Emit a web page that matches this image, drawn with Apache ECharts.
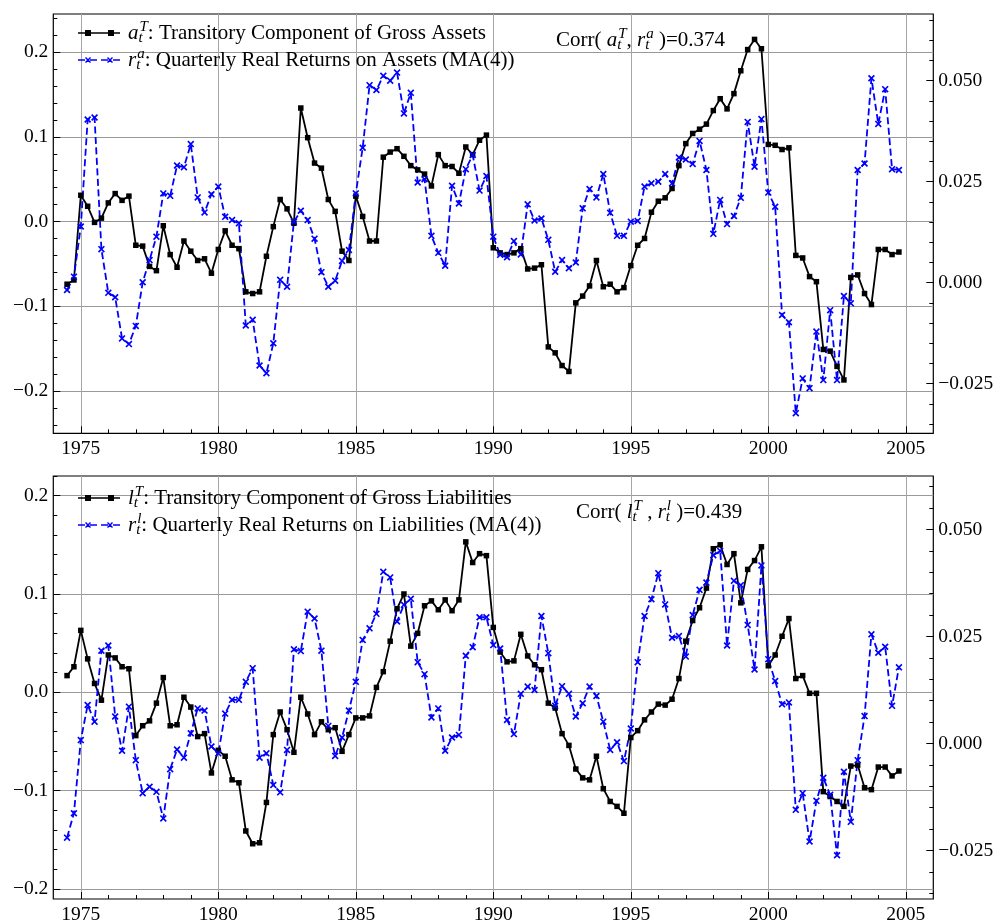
<!DOCTYPE html>
<html>
<head>
<meta charset="utf-8">
<script src="https://cdn.jsdelivr.net/npm/echarts@6/dist/echarts.min.js"></script>
<style>
  html, body { margin: 0; padding: 0; background: #fff; }
  #chart { width: 1003px; height: 924px; }
</style>
</head>
<body>
<div id="chart"></div>
<script>
// Quarterly series, first observation 1974.5, one value per quarter up to 2004.75
const START_YEAR = 1974.5;

// Transitory component of gross assets (left axis, top panel)
const assetsTransitory = [
  -0.074, -0.069, 0.031, 0.018, -0.001, 0.004, 0.022, 0.033, 0.025, 0.030,
  -0.028, -0.029, -0.053, -0.058, -0.005, -0.039, -0.054, -0.023, -0.035, -0.046,
  -0.044, -0.061, -0.033, -0.011, -0.028, -0.032, -0.083, -0.085, -0.083, -0.041,
  -0.006, 0.026, 0.015, -0.002, 0.134, 0.099, 0.069, 0.063, 0.026, 0.012,
  -0.035, -0.046, 0.030, 0.006, -0.023, -0.023, 0.076, 0.082, 0.086, 0.077,
  0.066, 0.061, 0.056, 0.042, 0.079, 0.066, 0.065, 0.057, 0.088, 0.079,
  0.096, 0.102, -0.031, -0.037, -0.039, -0.037, -0.032, -0.056, -0.055, -0.051,
  -0.148, -0.155, -0.170, -0.177, -0.096, -0.088, -0.076, -0.046, -0.077, -0.074,
  -0.083, -0.078, -0.052, -0.028, -0.020, 0.011, 0.024, 0.028, 0.039, 0.066,
  0.092, 0.104, 0.109, 0.115, 0.131, 0.145, 0.133, 0.151, 0.178, 0.203,
  0.215, 0.204, 0.091, 0.090, 0.085, 0.087, -0.040, -0.043, -0.065, -0.071,
  -0.151, -0.153, -0.171, -0.187, -0.066, -0.063, -0.085, -0.098, -0.033, -0.033,
  -0.039, -0.036
];

// Quarterly real returns on assets, MA(4) (right axis, top panel)
const assetsReturns = [
  -0.0018, 0.0015, 0.0139, 0.0404, 0.0409, 0.0083, -0.0025, -0.0036, -0.0138, -0.0152,
  -0.0107, 0.0001, 0.0056, 0.0114, 0.0221, 0.0215, 0.0290, 0.0286, 0.0343, 0.0211,
  0.0174, 0.0219, 0.0238, 0.0163, 0.0155, 0.0147, -0.0106, -0.0092, -0.0205, -0.0224,
  -0.0150, 0.0007, -0.0010, 0.0151, 0.0178, 0.0155, 0.0109, 0.0026, -0.0010, 0.0005,
  0.0054, 0.0081, 0.0221, 0.0334, 0.0489, 0.0477, 0.0512, 0.0500, 0.0520, 0.0419,
  0.0470, 0.0248, 0.0256, 0.0116, 0.0074, 0.0042, 0.0240, 0.0196, 0.0281, 0.0316,
  0.0228, 0.0264, 0.0114, 0.0069, 0.0063, 0.0103, 0.0070, 0.0194, 0.0154, 0.0159,
  0.0106, 0.0027, 0.0056, 0.0036, 0.0050, 0.0184, 0.0232, 0.0211, 0.0269, 0.0173,
  0.0116, 0.0116, 0.0151, 0.0153, 0.0238, 0.0246, 0.0250, 0.0269, 0.0246, 0.0310,
  0.0305, 0.0294, 0.0351, 0.0279, 0.0121, 0.0205, 0.0145, 0.0165, 0.0210, 0.0398,
  0.0287, 0.0405, 0.0223, 0.0188, -0.0080, -0.0098, -0.0323, -0.0237, -0.0261, -0.0121,
  -0.0241, -0.0068, -0.0241, -0.0033, -0.0051, 0.0279, 0.0295, 0.0506, 0.0393, 0.0479,
  0.0281, 0.0279
];

// Transitory component of gross liabilities (left axis, bottom panel)
const liabTransitory = [
  0.017, 0.026, 0.063, 0.034, 0.009, -0.008, 0.038, 0.035, 0.026, 0.024,
  -0.044, -0.034, -0.029, -0.011, 0.015, -0.034, -0.033, -0.005, -0.015, -0.045,
  -0.042, -0.082, -0.059, -0.065, -0.089, -0.092, -0.141, -0.154, -0.153, -0.112,
  -0.043, -0.020, -0.038, -0.061, -0.005, -0.022, -0.043, -0.030, -0.038, -0.036,
  -0.060, -0.043, -0.026, -0.026, -0.024, 0.005, 0.021, 0.052, 0.085, 0.100,
  0.047, 0.060, 0.088, 0.093, 0.084, 0.094, 0.083, 0.094, 0.153, 0.132,
  0.141, 0.139, 0.066, 0.041, 0.031, 0.032, 0.059, 0.037, 0.028, 0.023,
  -0.011, -0.016, -0.042, -0.054, -0.078, -0.087, -0.089, -0.065, -0.098, -0.111,
  -0.116, -0.123, -0.046, -0.039, -0.028, -0.020, -0.012, -0.013, -0.007, 0.014,
  0.052, 0.073, 0.086, 0.106, 0.146, 0.150, 0.130, 0.141, 0.091, 0.125,
  0.134, 0.148, 0.027, 0.038, 0.057, 0.075, 0.014, 0.017, -0.001, -0.001,
  -0.101, -0.106, -0.111, -0.116, -0.075, -0.074, -0.097, -0.099, -0.076, -0.076,
  -0.085, -0.080
];

// Quarterly real returns on liabilities, MA(4) (right axis, bottom panel)
const liabReturns = [
  -0.0220, -0.0163, 0.0008, 0.0090, 0.0051, 0.0217, 0.0229, 0.0063, -0.0017, 0.0086,
  -0.0039, -0.0116, -0.0101, -0.0113, -0.0175, -0.0060, -0.0014, -0.0033, 0.0024, 0.0082,
  0.0077, -0.0007, -0.0023, 0.0070, 0.0102, 0.0102, 0.0144, 0.0176, -0.0033, -0.0023,
  -0.0097, -0.0114, -0.0015, 0.0220, 0.0216, 0.0308, 0.0292, 0.0217, 0.0041, -0.0029,
  0.0014, 0.0077, 0.0144, 0.0242, 0.0269, 0.0303, 0.0401, 0.0388, 0.0285, 0.0324,
  0.0338, 0.0190, 0.0162, 0.0061, 0.0082, -0.0017, 0.0014, 0.0020, 0.0205, 0.0225,
  0.0295, 0.0295, 0.0230, 0.0222, 0.0055, 0.0022, 0.0116, 0.0133, 0.0125, 0.0298,
  0.0211, 0.0088, 0.0134, 0.0116, 0.0063, 0.0094, 0.0133, 0.0111, 0.0051, -0.0015,
  0.0003, -0.0041, 0.0035, 0.0190, 0.0298, 0.0337, 0.0398, 0.0325, 0.0247, 0.0251,
  0.0203, 0.0300, 0.0359, 0.0376, 0.0440, 0.0450, 0.0229, 0.0380, 0.0370, 0.0277,
  0.0173, 0.0416, 0.0197, 0.0146, 0.0092, 0.0096, -0.0155, -0.0116, -0.0229, -0.0134,
  -0.0080, -0.0120, -0.0261, -0.0066, -0.0183, -0.0039, 0.0064, 0.0255, 0.0212, 0.0226,
  0.0088, 0.0178
];

// Tick labels
const yearTicks = [1975, 1980, 1985, 1990, 1995, 2000, 2005];
const leftTicksTop = [-0.2, -0.1, 0.0, 0.1, 0.2];
const rightTicksTop = [-0.025, 0.0, 0.025, 0.05];
const leftTicksBottom = [-0.2, -0.1, 0.0, 0.1, 0.2];
const rightTicksBottom = [-0.025, 0.0, 0.025, 0.05];

// Axis extents
const X_MIN = 1974, X_MAX = 2006;
const TOP_LEFT = [-0.25, 0.245];
const TOP_RIGHT = [-0.03728, 0.06651];
const BOT_LEFT = [-0.2102, 0.2200];
const BOT_RIGHT = [-0.03633, 0.0625];

const FONT = '"Liberation Serif", "Times New Roman", serif';
const BLUE = '#0000ff';

function steps(from, to, step) {
  const out = [];
  for (let v = from; v <= to + step / 1000; v += step) out.push(Math.round(v * 10000) / 10000);
  return out;
}
function quarterly(values) {
  return values.map((v, i) => [START_YEAR + 0.25 * i, v]);
}
function fmt(decimals) {
  return v => (v < 0 ? '\u2212' : '') + Math.abs(v).toFixed(decimals);
}

// x-shaped marker, drawn as a filled outline
function xShape(cx, cy, h, d) {
  const x0 = cx - h, x1 = cx + h, y0 = cy - h, y1 = cy + h;
  return `M${x0},${y0 + d}L${x0 + d},${y0}L${x1},${y1 - d}L${x1 - d},${y1}Z` +
         `M${x1 - d},${y0}L${x1},${y0 + d}L${x0 + d},${y1}L${x0},${y1 - d}Z`;
}
const X_SYMBOL = 'path://' + xShape(3, 3, 3, 1);
const ICON_SOLID = 'path://M0,2.2H42V3.8H0Z M7,0H13V6H7Z M30,0H36V6H30Z';
const ICON_DASHED = 'path://M0,2.2H7V3.8H0Z M12,2.2H19V3.8H12Z M23,2.2H30V3.8H23Z M35,2.2H42V3.8H35Z ' +
  xShape(10, 3, 3, 1) + ' ' + xShape(32, 3, 3, 1);

const tickLine = { color: '#000', width: 1 };
const labelStyle = { fontFamily: FONT, fontSize: 19.5, color: '#000' };

function xAxes(gi) {
  return [
    {
      gridIndex: gi, type: 'value', position: 'bottom', min: X_MIN, max: X_MAX,
      axisLine: { show: false, onZero: false },
      axisTick: { inside: true, length: 7, lineStyle: tickLine, customValues: yearTicks },
      axisLabel: Object.assign({ margin: 6, customValues: yearTicks, formatter: v => String(v) }, labelStyle),
      splitLine: { show: true, lineStyle: { color: '#a6a6a6', width: 1 } }
    },
    {
      gridIndex: gi, type: 'value', position: 'bottom', min: X_MIN, max: X_MAX,
      axisLine: { show: false, onZero: false },
      axisTick: { inside: true, length: 4, lineStyle: tickLine, customValues: steps(1975, 2005, 1) },
      axisLabel: { show: false },
      splitLine: { show: false }
    }
  ];
}

function yAxes(gi, side, range, major, minor, decimals, grid) {
  return [
    {
      gridIndex: gi, type: 'value', position: side, min: range[0], max: range[1],
      axisLine: { show: false, onZero: false },
      axisTick: { inside: true, length: 7, lineStyle: tickLine, customValues: major },
      axisLabel: Object.assign({ margin: 5, customValues: major, formatter: fmt(decimals) }, labelStyle),
      splitLine: { show: grid, lineStyle: { color: '#999999', width: 1 } }
    },
    {
      gridIndex: gi, type: 'value', position: side, min: range[0], max: range[1],
      axisLine: { show: false, onZero: false },
      axisTick: { inside: true, length: 4, lineStyle: tickLine, customValues: minor },
      axisLabel: { show: false },
      splitLine: { show: false }
    }
  ];
}

const mainSize = 21, smallSize = 15;
const rich = {
  n: { fontFamily: FONT, fontSize: mainSize, lineHeight: 26, color: '#000' },
  m: { fontFamily: FONT, fontSize: mainSize, fontStyle: 'italic', lineHeight: 26, color: '#000' },
  sub: { fontFamily: FONT, fontSize: smallSize, fontStyle: 'italic', lineHeight: 12, verticalAlign: 'bottom', width: 1, color: '#000' },
  sup: { fontFamily: FONT, fontSize: smallSize, fontStyle: 'italic', lineHeight: 12, verticalAlign: 'top', color: '#000' }
};

const legendText = {
  assetsT: '{m|a}{sub|t}{sup|T}{n|: Transitory Component of Gross Assets}',
  assetsR: '{m|r}{sub|t}{sup|a}{n|: Quarterly Real Returns on Assets (MA(4))}',
  liabT: '{m|l}{sub|t}{sup|T}{n|: Transitory Component of Gross Liabilities}',
  liabR: '{m|r}{sub|t}{sup|l}{n|: Quarterly Real Returns on Liabilities (MA(4))}'
};
const corrTop = '{n|Corr( }{m|a}{sub|t}{sup|T}{n|, }{m|r}{sub|t}{sup|a}{n| )=0.374}';
const corrBottom = '{n|Corr( }{m|l}{sub|t}{sup|T}{n| , }{m|r}{sub|t}{sup|l}{n| )=0.439}';

function legend(names, top) {
  return {
    data: [{ name: names[0], icon: ICON_SOLID }, { name: names[1], icon: ICON_DASHED }],
    orient: 'vertical', left: 78, top: top, padding: 0, itemGap: 1,
    itemWidth: 42, itemHeight: 6, selectedMode: false,
    formatter: n => legendText[n],
    textStyle: { fontFamily: FONT, fontSize: mainSize, lineHeight: 26, color: '#000',
      padding: [0, 0, 0, 3], rich: rich }
  };
}

function solidSeries(name, values, xi, yi) {
  return {
    name: name, type: 'line', xAxisIndex: xi, yAxisIndex: yi, data: quarterly(values),
    symbol: 'rect', symbolSize: 5.5, showAllSymbol: true,
    lineStyle: { color: '#000', width: 1.8 }, itemStyle: { color: '#000' },
    emphasis: { disabled: true }
  };
}
function dashedSeries(name, values, xi, yi) {
  return {
    name: name, type: 'line', xAxisIndex: xi, yAxisIndex: yi, data: quarterly(values),
    symbol: X_SYMBOL, symbolSize: 7, showAllSymbol: true,
    lineStyle: { color: BLUE, width: 1.8, type: [7, 3.5] }, itemStyle: { color: BLUE },
    emphasis: { disabled: true }
  };
}

const gridBase = { show: true, borderColor: '#000', borderWidth: 1.2, backgroundColor: 'transparent',
  left: 53.3, right: 69.7, containLabel: false, outerBoundsMode: 'none' };

const option = {
  backgroundColor: '#fff',
  animation: false,
  grid: [
    Object.assign({ top: 14, height: 419.3 }, gridBase),
    Object.assign({ top: 476, height: 423 }, gridBase)
  ],
  xAxis: [].concat(xAxes(0), xAxes(1)),
  yAxis: [].concat(
    yAxes(0, 'left', TOP_LEFT, leftTicksTop, steps(-0.24, 0.24, 0.02), 1, true),
    yAxes(0, 'right', TOP_RIGHT, rightTicksTop, steps(-0.035, 0.065, 0.005), 3, false),
    yAxes(1, 'left', BOT_LEFT, leftTicksBottom, steps(-0.20, 0.22, 0.02), 1, true),
    yAxes(1, 'right', BOT_RIGHT, rightTicksBottom, steps(-0.035, 0.060, 0.005), 3, false)
  ),
  legend: [legend(['assetsT', 'assetsR'], 20), legend(['liabT', 'liabR'], 485)],
  title: [
    { text: corrTop, left: 556, top: 27, padding: 0,
      textStyle: { fontFamily: FONT, fontSize: mainSize, fontWeight: 'normal', lineHeight: 26, color: '#000', rich: rich } },
    { text: corrBottom, left: 576, top: 499, padding: 0,
      textStyle: { fontFamily: FONT, fontSize: mainSize, fontWeight: 'normal', lineHeight: 26, color: '#000', rich: rich } }
  ],
  series: [
    solidSeries('assetsT', assetsTransitory, 0, 0),
    dashedSeries('assetsR', assetsReturns, 0, 2),
    solidSeries('liabT', liabTransitory, 2, 4),
    dashedSeries('liabR', liabReturns, 2, 6)
  ]
};

const chart = echarts.init(document.getElementById('chart'), null, { renderer: 'canvas' });
chart.setOption(option);
</script>
</body>
</html>
